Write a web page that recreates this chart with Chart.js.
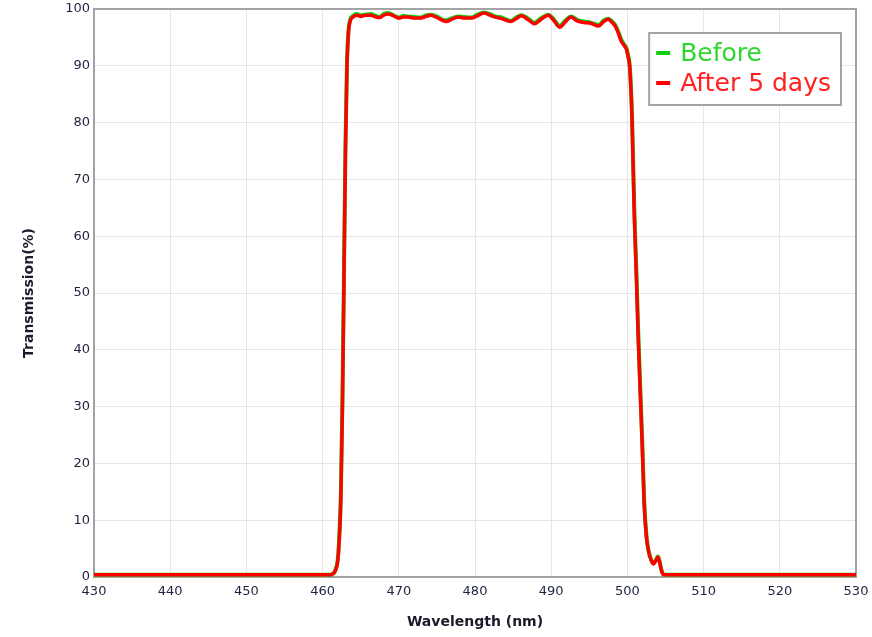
<!DOCTYPE html>
<html>
<head>
<meta charset="utf-8">
<script src="https://cdn.jsdelivr.net/npm/chart.js@4"></script>
<style>
  html, body { margin: 0; padding: 0; background: #ffffff; }
  #wrap { width: 872px; height: 637px; }
</style>
</head>
<body>
<div id="wrap"><canvas id="c" width="872" height="637"></canvas></div>
<script>
// ---- data ----
const wavelengths = [430, 440, 450, 460, 461.0, 461.4, 461.7, 462.0, 462.2, 462.4, 462.6, 462.8, 463.0, 463.2, 463.4, 463.6,
  464.0, 464.5, 465.0, 465.6, 466.3, 467.0, 467.5, 468.0, 468.6, 469.3,
  470.0, 470.6, 471.2, 472.0, 472.9, 473.6, 474.2, 475.0, 475.6, 476.2,
  477.0, 477.8, 478.6, 479.5, 480.3, 481.2, 482.0, 482.6, 483.5, 484.7,
  485.4, 486.1, 487.0, 487.8, 488.7, 489.6, 490.4, 491.1, 491.9, 492.6,
  493.4, 494.3, 495.2, 496.2, 496.9, 497.5, 498.0, 498.4, 498.8, 499.2,
  499.6, 499.9, 500.1, 500.3, 500.6, 500.9, 501.2, 501.4, 501.7, 502.0,
  502.2, 502.5, 502.8, 503.1, 503.4, 503.7, 504.0, 504.2, 504.5, 504.8,
  510, 520, 530];

const afterValues = [0.4, 0.4, 0.4, 0.4, 0.4, 0.6, 1.2, 3.0, 7.0, 14, 30, 52, 75, 90, 96, 97.8,
  98.6, 98.9, 98.7, 98.9, 98.9, 98.6, 98.5, 98.9, 99.1, 98.8,
  98.4, 98.6, 98.6, 98.4, 98.4, 98.7, 98.9, 98.5, 98.1, 97.8,
  98.2, 98.6, 98.4, 98.4, 98.8, 99.3, 98.9, 98.6, 98.3, 97.8,
  98.3, 98.8, 98.1, 97.4, 98.2, 98.9, 97.9, 96.8, 97.8, 98.6,
  97.9, 97.6, 97.5, 97.0, 97.8, 98.2, 97.6, 97.0, 95.8, 94.3,
  93.5, 92.8, 91.5, 89.8, 81, 64, 52, 43, 32, 21,
  13, 7.0, 4.4, 3.0, 2.3, 2.8, 3.5, 2.8, 1.0, 0.4,
  0.4, 0.4, 0.4];

const beforeValues = [0.4, 0.4, 0.4, 0.4, 0.4, 0.6, 1.3, 3.2, 7.5, 15, 31, 53, 76, 90.5, 96.2, 98.0,
  98.8, 99.1, 98.9, 99.0, 99.1, 98.8, 98.6, 99.1, 99.3, 98.9,
  98.5, 98.8, 98.7, 98.6, 98.5, 98.9, 99.0, 98.7, 98.2, 98.0,
  98.4, 98.7, 98.6, 98.5, 99.0, 99.4, 99.1, 98.7, 98.5, 97.9,
  98.5, 98.9, 98.3, 97.6, 98.4, 99.0, 98.1, 97.0, 98.0, 98.7,
  98.1, 97.8, 97.6, 97.2, 98.0, 98.3, 97.8, 97.2, 96.0, 94.6,
  93.7, 93.0, 91.8, 90.2, 81.5, 65, 53, 44, 33, 22,
  13.5, 7.3, 4.5, 3.1, 2.4, 2.9, 3.6, 2.9, 1.1, 0.4,
  0.4, 0.4, 0.4];

const seriesLabels = ['Before', 'After 5 days'];
const xTicks = [430, 440, 450, 460, 470, 480, 490, 500, 510, 520, 530];
const yTicks = [0, 10, 20, 30, 40, 50, 60, 70, 80, 90, 100];
const xTitle = 'Wavelength (nm)';
const yTitle = 'Transmission(%)';

// ---- build points ----
const toPoints = (xs, ys) => xs.map((x, i) => ({ x: x, y: ys[i] }));

const TICK_COLOR = '#1e2340';
const TITLE_COLOR = '#1a1a2a';
const FRAME = '#a3a3a3';
const GRID = '#e6e6e6';

const framePlugin = {
  id: 'frame',
  beforeDatasetsDraw(chart) {
    const { ctx, chartArea: a } = chart;
    ctx.save();
    ctx.strokeStyle = FRAME;
    ctx.lineWidth = 2;
    ctx.strokeRect(a.left, a.top, a.right - a.left, a.bottom - a.top);
    ctx.restore();
  }
};

const legendPlugin = {
  id: 'boxLegend',
  afterDraw(chart) {
    const { ctx, chartArea: a } = chart;
    const textColors = ['#2fd82f', '#ff2020'];
    ctx.save();
    ctx.font = '25px "DejaVu Sans", sans-serif';
    const labels = chart.data.datasets.map(d => d.label);
    let maxW = 0;
    labels.forEach(l => { maxW = Math.max(maxW, ctx.measureText(l).width); });
    const padL = 7, markW = 14, gap = 12, padR = 8, rowH = 30, padT = 5;
    const boxW = padL + markW + gap + maxW + padR;
    const boxH = padT * 2 + rowH * labels.length + 2;
    const right = a.right - 15;
    const top = a.top + 24;
    const left = right - boxW;
    ctx.fillStyle = '#ffffff';
    ctx.fillRect(left, top, boxW, boxH);
    ctx.strokeStyle = FRAME;
    ctx.lineWidth = 2;
    ctx.strokeRect(left, top, boxW, boxH);
    labels.forEach((l, i) => {
      const ds = chart.data.datasets[i];
      const cy = top + padT + rowH * i + rowH / 2;
      ctx.strokeStyle = ds.borderColor;
      ctx.lineWidth = 4;
      ctx.beginPath();
      ctx.moveTo(left + padL, cy);
      ctx.lineTo(left + padL + markW, cy);
      ctx.stroke();
      ctx.fillStyle = textColors[i];
      ctx.textBaseline = 'middle';
      ctx.textAlign = 'left';
      ctx.fillText(l, left + padL + markW + gap - 2, cy + 1);
    });
    ctx.restore();
  }
};

new Chart(document.getElementById('c'), {
  type: 'line',
  data: {
    datasets: [
      {
        label: seriesLabels[0],
        data: toPoints(wavelengths, beforeValues),
        borderColor: '#10d010',
        borderWidth: 4,
        pointRadius: 0,
        cubicInterpolationMode: 'monotone',
        fill: false,
        order: 1
      },
      {
        label: seriesLabels[1],
        data: toPoints(wavelengths, afterValues),
        borderColor: '#ff0000',
        borderWidth: 3.5,
        pointRadius: 0,
        cubicInterpolationMode: 'monotone',
        fill: false,
        order: 0
      }
    ]
  },
  options: {
    responsive: false,
    animation: false,
    events: [],
    layout: { padding: { left: 0, right: 16, top: 9, bottom: 0 } },
    plugins: { legend: { display: false }, tooltip: { enabled: false } },
    scales: {
      x: {
        type: 'linear',
        min: xTicks[0],
        max: xTicks[xTicks.length - 1],
        afterBuildTicks: s => { s.ticks = xTicks.map(v => ({ value: v })); },
        afterFit: s => { s.height = 60; s.paddingLeft = 0; s.paddingRight = 0; },
        grid: { color: GRID, lineWidth: 1, drawTicks: false },
        border: { display: true, color: FRAME, width: 2 },
        ticks: {
          color: TICK_COLOR, padding: 7, maxRotation: 0, autoSkip: false,
          font: { family: '"DejaVu Sans", sans-serif', size: 13 }
        },
        title: {
          display: true, text: xTitle, color: TITLE_COLOR,
          font: { family: '"DejaVu Sans", sans-serif', size: 14, weight: 'bold' },
          padding: { top: 0, bottom: 6 }
        }
      },
      y: {
        type: 'linear',
        min: yTicks[0],
        max: yTicks[yTicks.length - 1],
        afterBuildTicks: s => { s.ticks = yTicks.map(v => ({ value: v })); },
        afterFit: s => { s.width = 94; s.paddingTop = 0; s.paddingBottom = 0; },
        grid: { color: GRID, lineWidth: 1, drawTicks: false },
        border: { display: true, color: FRAME, width: 2 },
        ticks: {
          color: TICK_COLOR, padding: 4, autoSkip: false,
          font: { family: '"DejaVu Sans", sans-serif', size: 13 }
        },
        title: {
          display: true, text: yTitle, color: TITLE_COLOR,
          font: { family: '"DejaVu Sans", sans-serif', size: 14, weight: 'bold' },
          padding: { top: 21, bottom: 0 }
        }
      }
    }
  },
  plugins: [framePlugin, legendPlugin]
});
</script>
</body>
</html>
